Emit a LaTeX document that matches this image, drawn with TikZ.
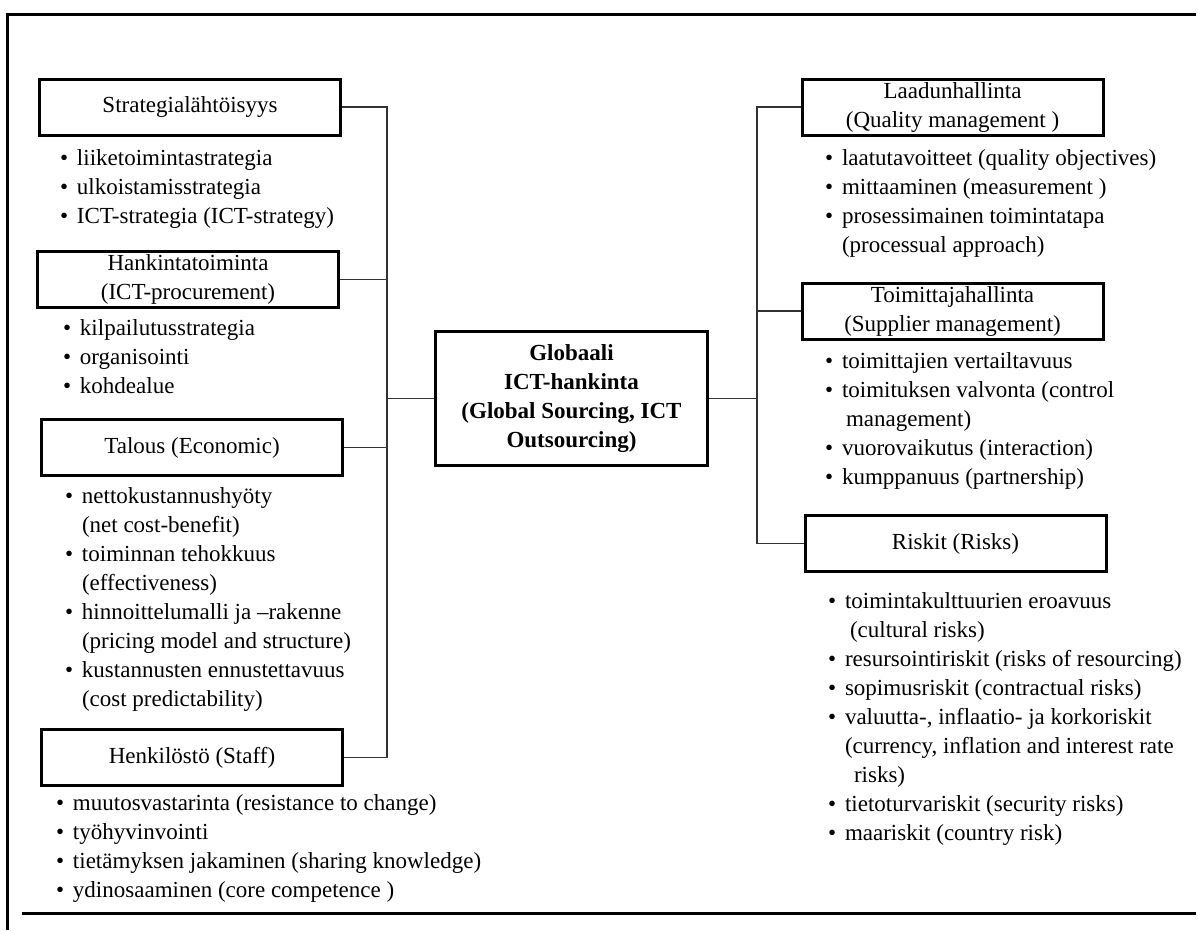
\documentclass[tikz,border=0pt]{standalone}
\usepackage{fontspec}
\setmainfont{Liberation Serif}
\usetikzlibrary{positioning}

\newcommand{\itm}[1]{\strut\makebox[17pt][l]{\textbullet}#1}
\newcommand{\cont}[1]{\strut\hspace*{17pt}#1}

\begin{document}
\begin{tikzpicture}[
    x=1pt, y=-1pt,
    box/.style={draw, line width=3pt, minimum width=301pt, minimum height=56pt, align=center, inner sep=2pt, font=\fontsize{23}{29}\selectfont},
    lst/.style={anchor=north west, align=left, inner sep=0pt, outer sep=0pt, font=\fontsize{23}{29}\selectfont},
    conn/.style={line width=1.3pt, black!80},
    frame/.style={line width=3pt}
]
    \useasboundingbox (0,0) rectangle (1198,930);

    \draw[frame] (7,930) -- (7,14) -- (1196,14);
    \draw[frame] (22,913) -- (1196,913);

    \node[box, minimum width=272pt, minimum height=134pt, font=\fontsize{23}{28.7}\selectfont\bfseries] (core) at (571.5,398.5) {Globaali\\ICT-hankinta\\(Global Sourcing, ICT\\Outsourcing)};

    \node[box] (strat) at (190,107) {Strategialähtöisyys};
    \node[box] (proc) at (188,279.5) {Hankintatoiminta\\(ICT-procurement)};
    \node[box] (econ) at (192,447.5) {Talous (Economic)};
    \node[box] (staff) at (192,757.5) {Henkilöstö (Staff)};

    \node[box] (qual) at (952.5,107) {Laadunhallinta\\(Quality management )};
    \node[box] (supp) at (952.5,311) {Toimittajahallinta\\(Supplier management)};
    \node[box] (risk) at (955.5,543.5) {Riskit (Risks)};

    \node[lst] (stratlist) at (60,144.7) {\itm{liiketoimintastrategia}\\\itm{ulkoistamisstrategia}\\\itm{ICT-strategia (ICT-strategy)}};
    \node[lst] (proclist) at (63,314.7) {\itm{kilpailutusstrategia}\\\itm{organisointi}\\\itm{kohdealue}};
    \node[lst] (econlist) at (65,482.7) {\itm{nettokustannushyöty}\\\cont{(net cost-benefit)}\\\itm{toiminnan tehokkuus}\\\cont{(effectiveness)}\\\itm{hinnoittelumalli ja –rakenne}\\\cont{(pricing model and structure)}\\\itm{kustannusten ennustettavuus}\\\cont{(cost predictability)}};
    \node[lst] (stafflist) at (56,789.7) {\itm{muutosvastarinta (resistance to change)}\\\itm{työhyvinvointi}\\\itm{tietämyksen jakaminen (sharing knowledge)}\\\itm{ydinosaaminen (core competence )}};

    \node[lst] (quallist) at (825,144.7) {\itm{laatutavoitteet (quality objectives)}\\\itm{mittaaminen (measurement )}\\\itm{prosessimainen toimintatapa}\\\cont{(processual approach)}};
    \node[lst] (supplist) at (825,347.7) {\itm{toimittajien vertailtavuus}\\\itm{toimituksen valvonta (control}\\\cont{\hspace{4pt}management)}\\\itm{vuorovaikutus (interaction)}\\\itm{kumppanuus (partnership)}};
    \node[lst] (risklist) at (828,587.7) {\itm{toimintakulttuurien eroavuus}\\\cont{\hspace{5pt}(cultural risks)}\\\itm{resursointiriskit (risks of  resourcing)}\\\itm{sopimusriskit (contractual risks)}\\\itm{valuutta-, inflaatio- ja korkoriskit}\\\cont{(currency, inflation and interest rate}\\\cont{\hspace{9pt}risks)}\\\itm{tietoturvariskit (security risks)}\\\itm{maariskit (country risk)}};

    \coordinate (lbus) at (387,398.5);
    \coordinate (rbus) at (757,398.5);

    \draw[conn] (strat.east) -| (lbus) |- (staff.east);
    \draw[conn] (proc.east) -- (proc.east -| lbus);
    \draw[conn] (econ.east) -- (econ.east -| lbus);
    \draw[conn] (lbus) -- (core.west);

    \draw[conn] (core.east) -- (rbus);
    \draw[conn] (qual.west) -| (rbus) |- (risk.west);
    \draw[conn] (supp.west) -- (supp.west -| rbus);
\end{tikzpicture}
\end{document}
